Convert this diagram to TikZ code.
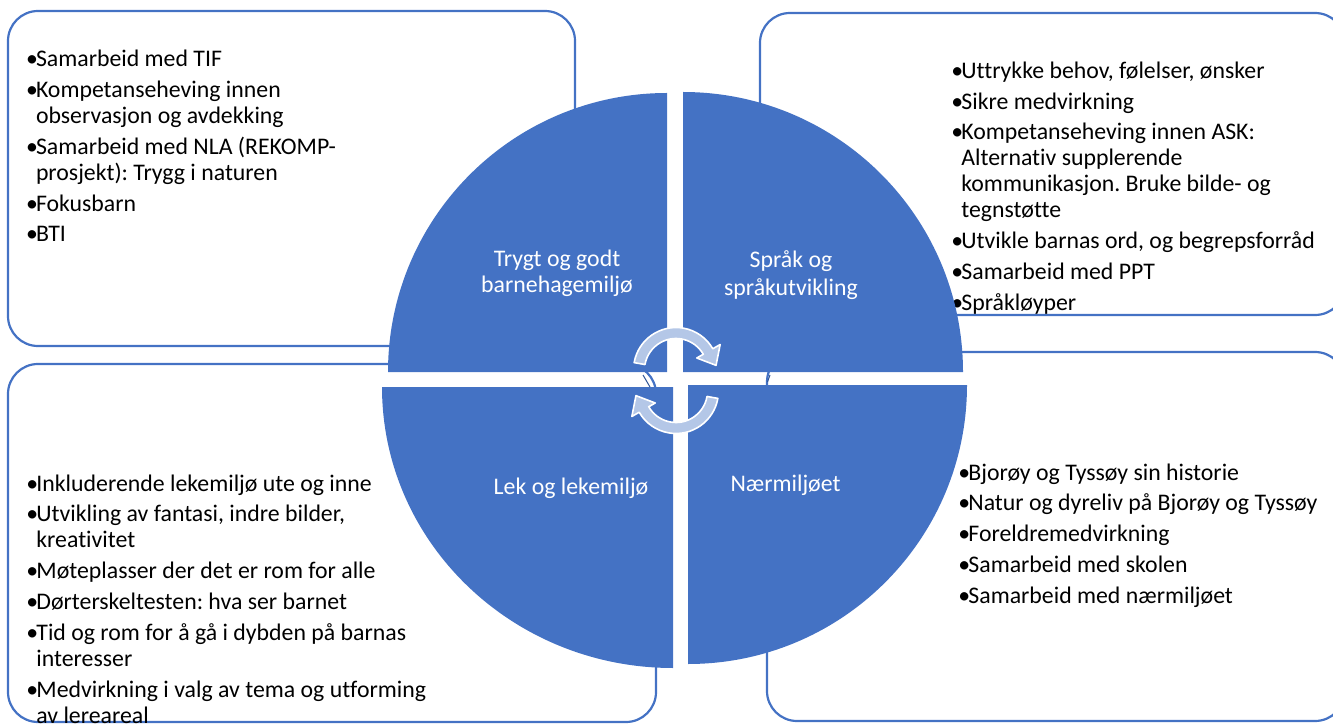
\documentclass[tikz,border=0pt]{standalone}
\usepackage{fontspec}
\setmainfont{Carlito}[Ligatures=NoCommon]
\usetikzlibrary{calc}

\definecolor{sektorblaa}{HTML}{4472C4}
\definecolor{pilblaa}{HTML}{B4C7E7}
\definecolor{mørkblaa}{HTML}{2F5597}

% bullet lists with hanging indent
\newlength{\punktinnrykk}
\setlength{\punktinnrykk}{5pt}
\newcommand{\punkt}[1]{\par\hangindent=\punktinnrykk\hangafter=1\noindent\makebox[\punktinnrykk][l]{\textbullet}#1}
\newcommand{\punktliste}[1]{\vtop{\hsize=360pt\parindent=0pt\parskip=2.4pt\baselineskip=13pt\lineskiplimit=-20pt\raggedright\frenchspacing #1\par}}

\tikzset{
  boks/.style={draw=sektorblaa, line width=1.1pt, rounded corners=15pt},
  sektor/.style={fill=sektorblaa},
  liste/.style={inner sep=0pt, anchor=base west, font=\fontsize{11.9pt}{13pt}\selectfont},
  etikett/.style={inner sep=0pt, anchor=base, text=white, font=\fontsize{11.9pt}{13pt}\selectfont},
  pil/.style={fill=pilblaa, draw=white, line width=0.8pt, line join=round},
  merke/.style={draw=mørkblaa, line width=0.5pt}
}

\begin{document}
\begin{tikzpicture}[x=0.5pt,y=0.5pt]
    \useasboundingbox (0,0) rectangle (1333,724);
    \clip (0,0) rectangle (1333,724);

    % Rounded boxes
    \draw[boks] (8,378) rectangle (575,713);
    \draw[boks] (760,409) rectangle (1345,711);
    \draw[boks] (8,2) rectangle (656,360);
    \draw[boks] (767,3) rectangle (1345,372);

    % Box texts
    \node[liste] (tlliste) at (25.6,657.3) {\punktliste{%
      \punkt{Samarbeid med TIF}
      \punkt{Kompetanseheving innen\newline observasjon og avdekking}
      \punkt{Samarbeid med NLA (REKOMP-\newline prosjekt): Trygg i naturen}
      \punkt{Fokusbarn}
      \punkt{BTI}}};
    \node[liste] (trliste) at (951,645.7) {\punktliste{%
      \punkt{Uttrykke behov, følelser, ønsker}
      \punkt{Sikre medvirkning}
      \punkt{Kompetanseheving innen ASK:\newline Alternativ supplerende\newline kommunikasjon. Bruke bilde- og\newline tegnstøtte}
      \punkt{Utvikle barnas ord, og begrepsforråd}
      \punkt{Samarbeid med PPT}
      \punkt{Språkløyper}}};
    \node[liste] (blliste) at (26,233) {\punktliste{%
      \punkt{Inkluderende lekemiljø ute og inne}
      \punkt{Utvikling av fantasi, indre bilder,\newline kreativitet}
      \punkt{Møteplasser der det er rom for alle}
      \punkt{Dørterskeltesten: hva ser barnet}
      \punkt{Tid og rom for å gå i dybden på barnas\newline interesser}
      \punkt{Medvirkning i valg av tema og utforming\newline av lereareal}}};
    \node[liste] (brliste) at (958,244) {\punktliste{%
      \punkt{Bjorøy og Tyssøy sin historie}
      \punkt{Natur og dyreliv på Bjorøy og Tyssøy}
      \punkt{Foreldremedvirkning}
      \punkt{Samarbeid med skolen}
      \punkt{Samarbeid med nærmiljøet}}};

    % Quarter sectors
    \fill[sektor] (667,352) -- (388,352) arc[start angle=180, end angle=90, radius=279] -- cycle;
    \fill[sektor] (683,352) -- (683,632) arc[start angle=90, end angle=0, radius=280] -- cycle;
    \fill[sektor] (673,337) -- (382,337) arc[start angle=180, end angle=270, x radius=291, y radius=281] -- cycle;
    \fill[sektor] (688,339) -- (688,60) arc[start angle=270, end angle=360, radius=279] -- cycle;

    % Sector labels
    \node[etikett] (tlnavn1) at (557,457.3) {Trygt og godt};
    \node[etikett] (tlnavn2) at (557,431) {barnehagemiljø};
    \node[etikett] (trnavn1) at (791,456) {Språk og};
    \node[etikett] (trnavn2) at (791,429) {språkutvikling};
    \node[etikett] (blnavn) at (571,229.5) {Lek og lekemiljø};
    \node[etikett] (brnavn) at (785.5,232.3) {Nærmiljøet};

    % Small marks in the gaps
    \draw[merke] (643,349) -- (650,337);
    \draw[merke] (770,349) -- (767.5,342);

    % Circular arrows
    \begin{scope}[shift={(676,354)}]
      \filldraw[pil] (170:42.5) arc[start angle=170, end angle=30, radius=42.5]
        -- (30:51) -- ($(30:37)+(-60:16)$) -- (30:24) -- (30:31.5)
        arc[start angle=30, end angle=170, radius=31.5] -- cycle;
    \end{scope}
    \begin{scope}[shift={(676,333)}]
      \filldraw[pil] (-10:42.5) arc[start angle=-10, end angle=-150, radius=42.5]
        -- (-150:51) -- ($(-150:37)+(120:16)$) -- (-150:24) -- (-150:31.5)
        arc[start angle=-150, end angle=-10, radius=31.5] -- cycle;
    \end{scope}
  \end{tikzpicture}
\end{document}
